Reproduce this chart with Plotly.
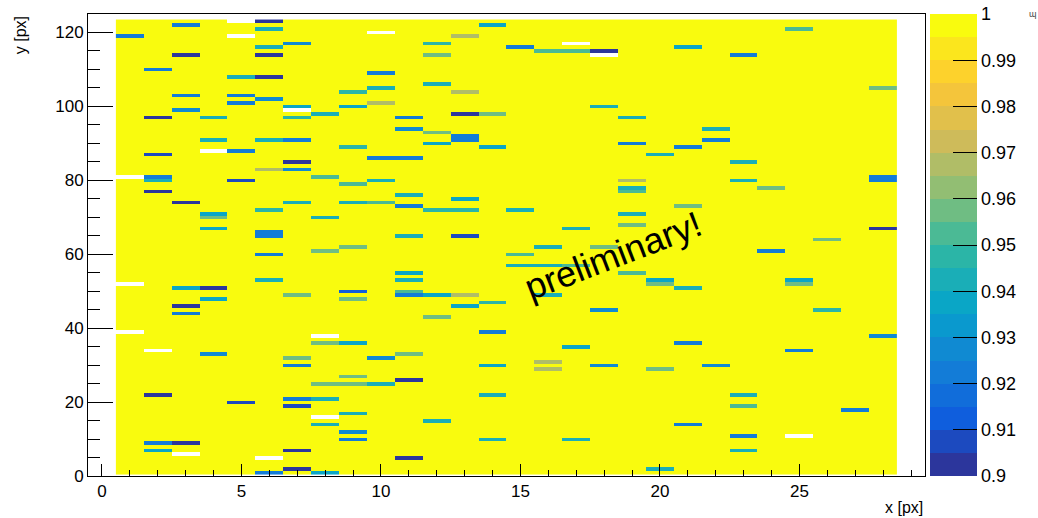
import numpy as np
import plotly.graph_objects as go

# ---------------- data ----------------
x_bins = list(range(1, 29))      # pixel columns
y_bins = list(range(1, 124))     # pixel rows
baseline_value = 1.0             # most cells sit at 1

z_ticks = [0.9, 0.91, 0.92, 0.93, 0.94, 0.95, 0.96, 0.97, 0.98, 0.99, 1.0]
z_ticktext = ["0.9", "0.91", "0.92", "0.93", "0.94", "0.95", "0.96", "0.97", "0.98", "0.99", "1"]

# cells below 1, grouped by (estimated) value: (x, y)
cells_0902 = [(6, 123), (3, 114), (6, 114), (18, 115), (6, 108), (13, 98), (2, 97), (7, 85),
              (2, 77), (3, 74), (28, 67), (4, 51), (3, 46), (11, 26), (2, 22), (3, 9), (7, 7),
              (11, 5), (7, 2)]
cells_0908 = [(2, 87), (5, 80), (13, 65), (5, 20), (7, 19)]
cells_0912 = [(9, 50)]
cells_0920 = [(3, 122), (1, 119), (15, 116), (23, 114), (2, 110), (10, 109), (3, 103), (5, 103),
              (5, 101), (11, 97), (13, 92), (13, 91), (7, 91), (22, 91), (19, 90), (21, 89),
              (5, 88), (10, 86), (11, 86), (2, 81), (28, 81), (28, 80), (11, 73), (6, 66),
              (6, 65), (24, 61), (6, 60), (11, 49), (3, 44), (14, 39), (21, 36), (25, 34),
              (7, 30), (7, 21), (27, 18), (21, 14), (23, 11), (9, 10), (2, 9), (6, 1)]
cells_0928 = [(7, 117), (6, 102), (3, 99), (11, 94), (7, 83), (18, 45), (28, 38), (4, 33),
              (10, 32), (18, 30), (22, 30), (9, 12)]
cells_0935 = [(14, 122), (21, 116), (7, 100), (9, 100), (12, 90), (14, 89), (13, 75), (4, 71),
              (4, 67), (11, 55), (20, 53), (25, 53), (3, 51), (12, 49), (4, 48), (13, 46),
              (9, 36), (17, 35), (14, 30), (2, 7), (8, 1)]
cells_0942 = [(6, 121), (6, 116), (5, 108), (12, 106), (10, 105), (18, 100), (8, 98), (4, 97),
              (19, 97), (22, 94), (4, 91), (6, 91), (20, 87), (23, 85), (2, 80), (10, 80),
              (23, 80), (19, 78), (11, 76), (7, 74), (9, 74), (15, 72), (19, 71), (8, 70),
              (17, 67), (11, 65), (16, 62), (15, 57), (16, 57), (6, 53), (11, 53), (21, 51),
              (16, 49), (10, 25), (14, 22), (23, 22), (8, 21), (9, 17), (12, 15), (8, 14),
              (14, 10), (17, 10), (23, 7), (20, 2)]
cells_0948 = [(12, 117), (9, 104), (7, 97), (9, 89), (6, 72), (12, 72), (13, 72), (14, 47),
              (26, 45)]
cells_0952 = [(25, 121), (16, 115), (17, 115), (8, 81), (9, 79), (19, 77), (10, 74), (15, 60),
              (17, 57), (19, 55), (11, 50), (23, 19)]
cells_0957 = [(12, 114), (28, 105), (14, 98), (12, 93), (24, 78), (21, 73), (4, 70), (19, 68),
              (26, 64), (9, 62), (18, 62), (8, 61), (20, 52), (25, 52), (7, 49), (9, 48),
              (12, 43), (8, 36), (11, 33), (7, 32), (20, 29), (9, 27), (8, 25), (9, 25)]
cells_0967 = [(13, 119), (13, 104), (10, 101), (6, 83), (19, 80), (13, 49), (16, 31), (16, 29)]
# empty (not drawn) cells
cells_empty = [(5, 123), (10, 120), (5, 119), (17, 117), (18, 114), (7, 99), (4, 88), (1, 81),
               (1, 52), (1, 39), (8, 38), (2, 34), (8, 16), (25, 11), (3, 6), (6, 5)]

value_groups = {
    0.902: cells_0902, 0.908: cells_0908, 0.912: cells_0912, 0.920: cells_0920,
    0.928: cells_0928, 0.935: cells_0935, 0.942: cells_0942, 0.948: cells_0948,
    0.952: cells_0952, 0.957: cells_0957, 0.967: cells_0967,
}

# ---------------- build grid ----------------
z = np.full((len(y_bins), len(x_bins)), baseline_value)
for val, cells in value_groups.items():
    for cx, cy in cells:
        z[y_bins.index(cy), x_bins.index(cx)] = val
for cx, cy in cells_empty:
    z[y_bins.index(cy), x_bins.index(cx)] = np.nan

# ---------------- ROOT kBird palette, 20 contour bands ----------------
stops = [0.0, 0.125, 0.25, 0.375, 0.5, 0.625, 0.75, 0.875, 1.0]
red = [0.2082, 0.0592, 0.0780, 0.0232, 0.1802, 0.5301, 0.8186, 0.9956, 0.9764]
green = [0.1664, 0.3599, 0.5041, 0.6419, 0.7178, 0.7492, 0.7328, 0.7862, 0.9832]
blue = [0.5293, 0.8684, 0.8385, 0.7914, 0.6425, 0.4662, 0.3499, 0.1968, 0.0539]


def bird(t):
    r = np.interp(t, stops, red)
    g = np.interp(t, stops, green)
    b = np.interp(t, stops, blue)
    return "rgb(%d,%d,%d)" % (round(r * 255), round(g * 255), round(b * 255))


n_bands = 20
colorscale = []
for k in range(n_bands):
    t = 0.03 + k * (0.97 / (n_bands - 1))
    c = bird(t)
    colorscale.append([k / n_bands, c])
    colorscale.append([(k + 1) / n_bands, c])

FONT = "Liberation Sans, Arial, Helvetica, sans-serif"

fig = go.Figure()
fig.add_trace(go.Heatmap(
    x=x_bins, y=y_bins, z=z,
    zmin=0.9, zmax=1.0,
    colorscale=colorscale,
    hoverinfo="skip",
    colorbar=dict(
        x=1.006, xanchor="left", xpad=0,
        y=0.5, yanchor="middle", ypad=0, len=1, lenmode="fraction",
        thickness=47, thicknessmode="pixels",
        outlinewidth=0,
        tickvals=z_ticks, ticktext=z_ticktext,
        ticks="inside", ticklen=24, tickwidth=1, tickcolor="black",
        tickfont=dict(family=FONT, size=18, color="black"),
    ),
))

fig.update_layout(
    width=1038, height=518,
    margin=dict(l=88, r=113, t=14, b=42, autoexpand=False),
    plot_bgcolor="white", paper_bgcolor="white",
    font=dict(family=FONT, size=17, color="black"),
    xaxis=dict(
        range=[-0.5, 29.5], tick0=0, dtick=5,
        ticks="inside", ticklen=12, tickwidth=1, tickcolor="black",
        minor=dict(ticks="inside", ticklen=6, dtick=1, tick0=0, tickcolor="black"),
        showline=True, linecolor="black", linewidth=1, mirror=True,
        showgrid=False, zeroline=False,
        tickfont=dict(family=FONT, size=17),
    ),
    yaxis=dict(
        range=[0, 125], tick0=0, dtick=20,
        ticks="inside", ticklen=25, tickwidth=1, tickcolor="black",
        minor=dict(ticks="inside", ticklen=12, dtick=5, tick0=0, tickcolor="black"),
        showline=True, linecolor="black", linewidth=1, mirror=True,
        showgrid=False, zeroline=False,
        tickfont=dict(family=FONT, size=17),
    ),
    annotations=[
        dict(text="x [px]", xref="paper", yref="paper", x=1.0, y=-0.069,
             xanchor="right", yanchor="middle", showarrow=False,
             font=dict(family=FONT, size=16)),
        dict(text="y [px]", xref="paper", yref="paper", x=-0.081, y=1.0,
             xanchor="center", yanchor="top", textangle=-90, showarrow=False,
             font=dict(family=FONT, size=16)),
        dict(text="preliminary!", xref="x", yref="y", x=18.33, y=59.7,
             textangle=-21, showarrow=False,
             font=dict(family=FONT, size=36, color="black")),
        dict(text="ɰ", xref="paper", yref="paper", x=1.129, y=1.0,
             xanchor="center", yanchor="middle", showarrow=False,
             font=dict(family=FONT, size=9, color="#444")),
    ],
)

fig.write_html("out.html")
